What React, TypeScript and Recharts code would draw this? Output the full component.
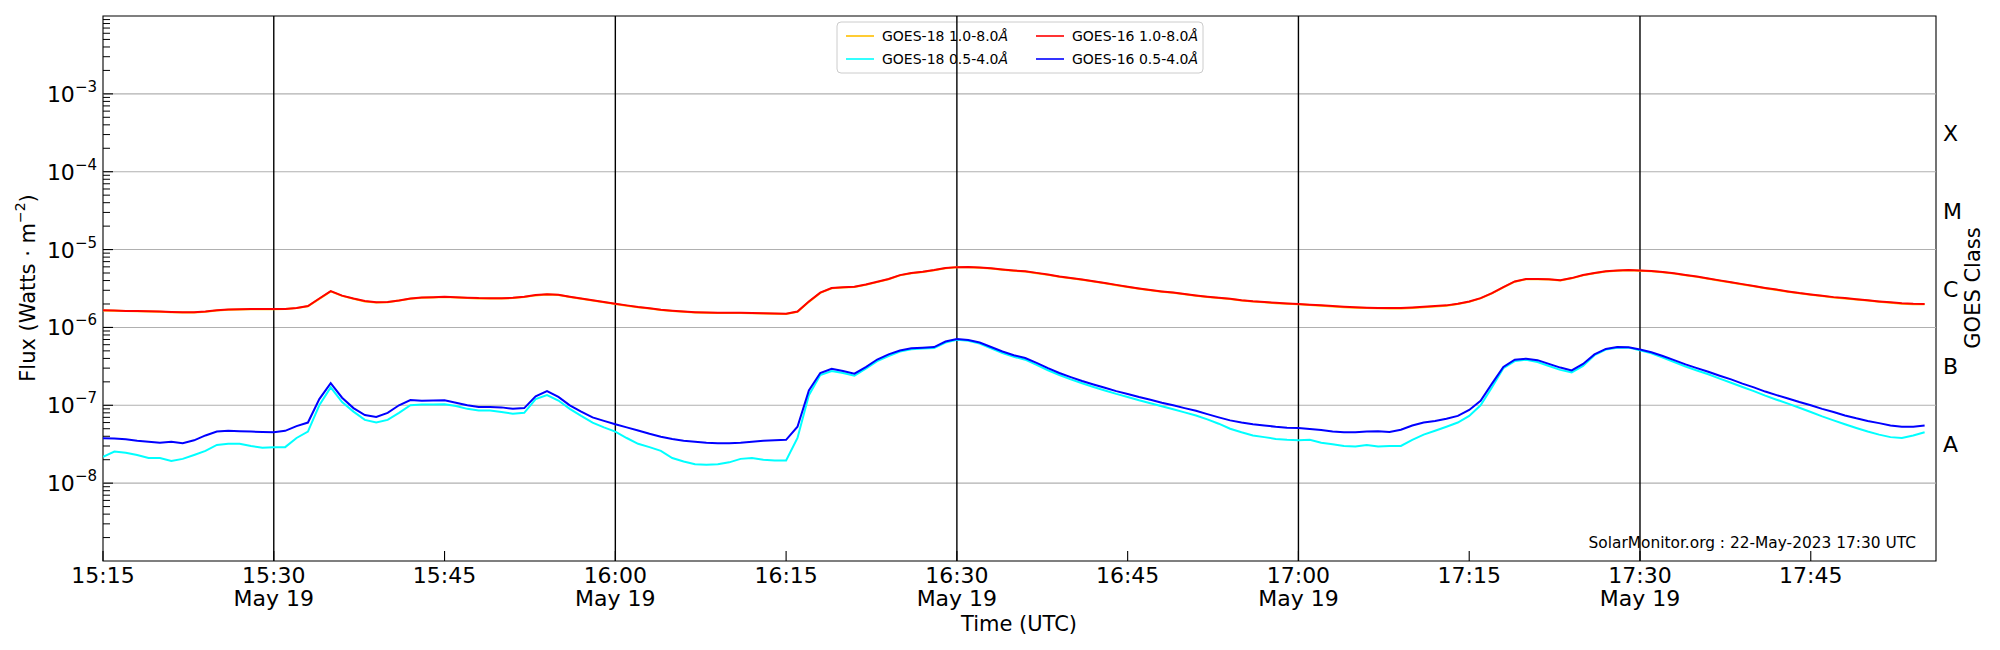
import React from 'react';
import { LineChart, Line, XAxis, YAxis, ReferenceLine, ReferenceArea } from 'recharts';

// minutes after 15:15 UTC, one sample per minute (15:15 .. 17:55)
const minutes = Array.from({ length: 161 }, (_, i) => i);

const goes16Long = [
  1.66e-6, 1.65e-6, 1.63e-6, 1.62e-6, 1.61e-6, 1.6e-6, 1.58e-6, 1.57e-6, 1.57e-6, 1.6e-6,
  1.66e-6, 1.7e-6, 1.71e-6, 1.72e-6, 1.72e-6, 1.72e-6, 1.73e-6, 1.78e-6, 1.88e-6, 2.35e-6,
  2.93e-6, 2.56e-6, 2.35e-6, 2.18e-6, 2.1e-6, 2.12e-6, 2.22e-6, 2.36e-6, 2.42e-6, 2.45e-6,
  2.48e-6, 2.45e-6, 2.41e-6, 2.38e-6, 2.37e-6, 2.37e-6, 2.4e-6, 2.48e-6, 2.6e-6, 2.66e-6,
  2.62e-6, 2.48e-6, 2.36e-6, 2.24e-6, 2.12e-6, 2.02e-6, 1.92e-6, 1.83e-6, 1.76e-6, 1.69e-6,
  1.64e-6, 1.6e-6, 1.57e-6, 1.55e-6, 1.54e-6, 1.54e-6, 1.54e-6, 1.53e-6, 1.52e-6, 1.51e-6,
  1.5e-6, 1.6e-6, 2.15e-6, 2.8e-6, 3.2e-6, 3.28e-6, 3.32e-6, 3.55e-6, 3.85e-6, 4.19e-6,
  4.7e-6, 5.0e-6, 5.2e-6, 5.47e-6, 5.8e-6, 5.95e-6, 5.97e-6, 5.9e-6, 5.75e-6, 5.55e-6,
  5.38e-6, 5.25e-6, 5.02e-6, 4.77e-6, 4.52e-6, 4.32e-6, 4.13e-6, 3.92e-6, 3.72e-6, 3.52e-6,
  3.33e-6, 3.16e-6, 3.02e-6, 2.9e-6, 2.8e-6, 2.68e-6, 2.57e-6, 2.48e-6, 2.4e-6, 2.33e-6,
  2.24e-6, 2.17e-6, 2.12e-6, 2.07e-6, 2.03e-6, 2.0e-6, 1.96e-6, 1.92e-6, 1.88e-6, 1.84e-6,
  1.81e-6, 1.79e-6, 1.78e-6, 1.77e-6, 1.77e-6, 1.8e-6, 1.84e-6, 1.88e-6, 1.92e-6, 2.02e-6,
  2.15e-6, 2.38e-6, 2.75e-6, 3.3e-6, 3.9e-6, 4.2e-6, 4.2e-6, 4.15e-6, 4.05e-6, 4.3e-6,
  4.7e-6, 5.0e-6, 5.25e-6, 5.4e-6, 5.45e-6, 5.4e-6, 5.3e-6, 5.15e-6, 4.95e-6, 4.72e-6,
  4.5e-6, 4.25e-6, 4.02e-6, 3.8e-6, 3.6e-6, 3.4e-6, 3.22e-6, 3.06e-6, 2.9e-6, 2.76e-6,
  2.65e-6, 2.55e-6, 2.45e-6, 2.38e-6, 2.3e-6, 2.23e-6, 2.16e-6, 2.1e-6, 2.04e-6, 2.01e-6,
  2.0e-6,
];

// hidden almost entirely under the GOES-16 long channel
const goes18Long = [
  1.65e-6, 1.64e-6, 1.62e-6, 1.61e-6, 1.6e-6, 1.59e-6, 1.57e-6, 1.56e-6, 1.56e-6, 1.59e-6,
  1.65e-6, 1.69e-6, 1.7e-6, 1.71e-6, 1.71e-6, 1.71e-6, 1.72e-6, 1.77e-6, 1.87e-6, 2.33e-6,
  2.9e-6, 2.54e-6, 2.33e-6, 2.16e-6, 2.09e-6, 2.11e-6, 2.21e-6, 2.34e-6, 2.4e-6, 2.43e-6,
  2.46e-6, 2.43e-6, 2.39e-6, 2.36e-6, 2.35e-6, 2.35e-6, 2.38e-6, 2.46e-6, 2.58e-6, 2.64e-6,
  2.6e-6, 2.46e-6, 2.34e-6, 2.22e-6, 2.1e-6, 2.0e-6, 1.9e-6, 1.82e-6, 1.75e-6, 1.68e-6,
  1.63e-6, 1.59e-6, 1.56e-6, 1.54e-6, 1.53e-6, 1.53e-6, 1.53e-6, 1.52e-6, 1.51e-6, 1.5e-6,
  1.49e-6, 1.59e-6, 2.13e-6, 2.78e-6, 3.18e-6, 3.26e-6, 3.3e-6, 3.52e-6, 3.82e-6, 4.16e-6,
  4.66e-6, 4.96e-6, 5.16e-6, 5.43e-6, 5.76e-6, 5.91e-6, 5.93e-6, 5.86e-6, 5.71e-6, 5.51e-6,
  5.34e-6, 5.21e-6, 4.98e-6, 4.73e-6, 4.49e-6, 4.29e-6, 4.1e-6, 3.89e-6, 3.69e-6, 3.49e-6,
  3.3e-6, 3.14e-6, 3.0e-6, 2.88e-6, 2.78e-6, 2.66e-6, 2.55e-6, 2.46e-6, 2.38e-6, 2.31e-6,
  2.22e-6, 2.15e-6, 2.1e-6, 2.05e-6, 2.01e-6, 1.98e-6, 1.94e-6, 1.9e-6, 1.86e-6, 1.82e-6,
  1.79e-6, 1.77e-6, 1.76e-6, 1.75e-6, 1.75e-6, 1.78e-6, 1.82e-6, 1.86e-6, 1.9e-6, 2.0e-6,
  2.13e-6, 2.36e-6, 2.73e-6, 3.27e-6, 3.87e-6, 4.17e-6, 4.17e-6, 4.12e-6, 4.02e-6, 4.27e-6,
  4.66e-6, 4.96e-6, 5.21e-6, 5.36e-6, 5.41e-6, 5.36e-6, 5.26e-6, 5.11e-6, 4.91e-6, 4.68e-6,
  4.46e-6, 4.21e-6, 3.99e-6, 3.77e-6, 3.57e-6, 3.37e-6, 3.19e-6, 3.03e-6, 2.88e-6, 2.74e-6,
  2.63e-6, 2.53e-6, 2.43e-6, 2.36e-6, 2.28e-6, 2.21e-6, 2.14e-6, 2.08e-6, 2.02e-6, 1.99e-6,
  1.98e-6,
];

const goes16Short = [
  3.76e-8, 3.75e-8, 3.65e-8, 3.5e-8, 3.4e-8, 3.3e-8, 3.4e-8, 3.25e-8, 3.55e-8, 4.1e-8,
  4.6e-8, 4.7e-8, 4.65e-8, 4.6e-8, 4.55e-8, 4.5e-8, 4.7e-8, 5.4e-8, 6.0e-8, 1.2e-7,
  1.92e-7, 1.25e-7, 9.2e-8, 7.5e-8, 7.1e-8, 8.0e-8, 1.0e-7, 1.17e-7, 1.14e-7, 1.15e-7,
  1.16e-7, 1.08e-7, 1.0e-7, 9.5e-8, 9.5e-8, 9.4e-8, 9.0e-8, 9.2e-8, 1.3e-7, 1.52e-7,
  1.28e-7, 1.0e-7, 8.3e-8, 7.0e-8, 6.3e-8, 5.7e-8, 5.2e-8, 4.75e-8, 4.3e-8, 3.95e-8,
  3.7e-8, 3.5e-8, 3.4e-8, 3.3e-8, 3.25e-8, 3.25e-8, 3.3e-8, 3.4e-8, 3.5e-8, 3.55e-8,
  3.6e-8, 5.3e-8, 1.55e-7, 2.6e-7, 2.95e-7, 2.75e-7, 2.55e-7, 3.1e-7, 3.87e-7, 4.5e-7,
  5.06e-7, 5.4e-7, 5.5e-7, 5.6e-7, 6.6e-7, 7.1e-7, 6.9e-7, 6.4e-7, 5.6e-7, 4.9e-7,
  4.4e-7, 4.05e-7, 3.5e-7, 3.0e-7, 2.6e-7, 2.3e-7, 2.05e-7, 1.85e-7, 1.68e-7, 1.52e-7,
  1.4e-7, 1.28e-7, 1.18e-7, 1.08e-7, 1.0e-7, 9.2e-8, 8.5e-8, 7.7e-8, 7.0e-8, 6.4e-8,
  6.0e-8, 5.7e-8, 5.5e-8, 5.3e-8, 5.15e-8, 5.1e-8, 4.95e-8, 4.8e-8, 4.6e-8, 4.5e-8,
  4.5e-8, 4.6e-8, 4.65e-8, 4.55e-8, 4.85e-8, 5.5e-8, 6.0e-8, 6.3e-8, 6.7e-8, 7.3e-8,
  8.7e-8, 1.14e-7, 1.9e-7, 3.1e-7, 3.85e-7, 3.97e-7, 3.8e-7, 3.4e-7, 3.05e-7, 2.8e-7,
  3.4e-7, 4.5e-7, 5.3e-7, 5.6e-7, 5.55e-7, 5.2e-7, 4.8e-7, 4.3e-7, 3.8e-7, 3.35e-7,
  3.0e-7, 2.7e-7, 2.4e-7, 2.15e-7, 1.9e-7, 1.7e-7, 1.5e-7, 1.35e-7, 1.22e-7, 1.1e-7,
  1.0e-7, 9.0e-8, 8.2e-8, 7.4e-8, 6.8e-8, 6.3e-8, 5.9e-8, 5.5e-8, 5.3e-8, 5.3e-8,
  5.5e-8,
];

const goes18Short = [
  2.18e-8, 2.55e-8, 2.45e-8, 2.3e-8, 2.1e-8, 2.1e-8, 1.92e-8, 2.05e-8, 2.3e-8, 2.6e-8,
  3.1e-8, 3.2e-8, 3.2e-8, 3.0e-8, 2.85e-8, 2.9e-8, 2.9e-8, 3.8e-8, 4.6e-8, 1.0e-7,
  1.7e-7, 1.1e-7, 8.3e-8, 6.5e-8, 6.0e-8, 6.5e-8, 8.0e-8, 1.0e-7, 1.02e-7, 1.02e-7,
  1.03e-7, 9.8e-8, 9.0e-8, 8.6e-8, 8.6e-8, 8.2e-8, 7.8e-8, 8.0e-8, 1.2e-7, 1.35e-7,
  1.15e-7, 9.0e-8, 7.3e-8, 6.0e-8, 5.2e-8, 4.6e-8, 3.8e-8, 3.2e-8, 2.9e-8, 2.6e-8,
  2.1e-8, 1.9e-8, 1.75e-8, 1.72e-8, 1.75e-8, 1.85e-8, 2.05e-8, 2.1e-8, 2.0e-8, 1.95e-8,
  1.95e-8, 3.8e-8, 1.35e-7, 2.45e-7, 2.75e-7, 2.6e-7, 2.4e-7, 2.95e-7, 3.7e-7, 4.3e-7,
  4.9e-7, 5.25e-7, 5.35e-7, 5.45e-7, 6.4e-7, 6.95e-7, 6.75e-7, 6.2e-7, 5.4e-7, 4.7e-7,
  4.2e-7, 3.85e-7, 3.3e-7, 2.82e-7, 2.45e-7, 2.15e-7, 1.92e-7, 1.72e-7, 1.55e-7, 1.4e-7,
  1.28e-7, 1.16e-7, 1.06e-7, 9.7e-8, 8.9e-8, 8.1e-8, 7.4e-8, 6.6e-8, 5.8e-8, 5.0e-8,
  4.5e-8, 4.1e-8, 3.9e-8, 3.7e-8, 3.6e-8, 3.55e-8, 3.6e-8, 3.3e-8, 3.15e-8, 3.0e-8,
  2.95e-8, 3.1e-8, 2.95e-8, 3.0e-8, 3.0e-8, 3.6e-8, 4.2e-8, 4.7e-8, 5.3e-8, 6.0e-8,
  7.3e-8, 1.0e-7, 1.7e-7, 3.0e-7, 3.7e-7, 3.85e-7, 3.6e-7, 3.2e-7, 2.85e-7, 2.65e-7,
  3.2e-7, 4.4e-7, 5.2e-7, 5.5e-7, 5.5e-7, 5.1e-7, 4.65e-7, 4.1e-7, 3.6e-7, 3.15e-7,
  2.8e-7, 2.5e-7, 2.2e-7, 1.95e-7, 1.72e-7, 1.52e-7, 1.33e-7, 1.18e-7, 1.05e-7, 9.3e-8,
  8.2e-8, 7.2e-8, 6.4e-8, 5.7e-8, 5.1e-8, 4.6e-8, 4.2e-8, 3.9e-8, 3.8e-8, 4.1e-8,
  4.5e-8,
];

const timeTicks = [0, 15, 30, 45, 60, 75, 90, 105, 120, 135, 150];
const timeLabels = ['15:15', '15:30', '15:45', '16:00', '16:15', '16:30', '16:45', '17:00', '17:15', '17:30', '17:45'];
const dateLabels = ['', 'May 19', '', 'May 19', '', 'May 19', '', 'May 19', '', 'May 19', ''];
const halfHourMarks = [15, 45, 75, 105, 135];

const decadeTicks = [1e-8, 1e-7, 1e-6, 1e-5, 1e-4, 1e-3];
const decadeExponents = ['\u22128', '\u22127', '\u22126', '\u22125', '\u22124', '\u22123'];
const classTicks = [3.16e-8, 3.16e-7, 3.16e-6, 3.16e-5, 3.16e-4];
const classLabels = ['A', 'B', 'C', 'M', 'X'];

// minor log ticks 2..9 x 10^k
const minorTicks: number[] = [];
for (let k = -9; k <= -3; k++) {
  for (let m = 2; m <= 9; m++) minorTicks.push(m * Math.pow(10, k));
}
const fluxTicks = [...decadeTicks, ...minorTicks];

const series = [
  { key: 'g18l', name: 'GOES-18 1.0-8.0', color: '#ffbf00', axis: 'cls' },
  { key: 'g18s', name: 'GOES-18 0.5-4.0', color: '#00ffff', axis: 'flux' },
  { key: 'g16l', name: 'GOES-16 1.0-8.0', color: '#ff0000', axis: 'flux' },
  { key: 'g16s', name: 'GOES-16 0.5-4.0', color: '#0000ff', axis: 'flux' },
];

const data = minutes.map((t, i) => ({
  t,
  g18l: goes18Long[i],
  g18s: goes18Short[i],
  g16l: goes16Long[i],
  g16s: goes16Short[i],
}));

const FONT = 'DejaVu Sans, sans-serif';

const FluxTick = (props: any) => {
  const { x, y, payload } = props;
  const idx = decadeTicks.indexOf(payload.value);
  if (idx < 0) {
    return <line x1={x} x2={x + 7} y1={y} y2={y} stroke="#000" strokeWidth={1} />;
  }
  return (
    <g>
      <line x1={x} x2={x + 10} y1={y} y2={y} stroke="#000" strokeWidth={1.1} />
      <text x={x - 6} y={y + 8} textAnchor="end" fontSize={22} fill="#000" fontFamily={FONT}>
        10<tspan dy={-10} fontSize={15}>{decadeExponents[idx]}</tspan>
      </text>
    </g>
  );
};

const ClassTick = (props: any) => {
  const { x, y, payload } = props;
  const idx = classTicks.indexOf(payload.value);
  return (
    <text x={x + 7} y={y + 8} textAnchor="start" fontSize={22} fill="#000" fontFamily={FONT}>
      {classLabels[idx]}
    </text>
  );
};

const TimeTick = (props: any) => {
  const { x, y, payload } = props;
  const idx = timeTicks.indexOf(payload.value);
  return (
    <g>
      <line x1={x} x2={x} y1={y} y2={y - 10} stroke="#000" strokeWidth={1.1} />
      <text x={x} y={y + 22} textAnchor="middle" fontSize={22} fill="#000" fontFamily={FONT}>
        {timeLabels[idx]}
      </text>
      {dateLabels[idx] && (
        <text x={x} y={y + 45} textAnchor="middle" fontSize={22} fill="#000" fontFamily={FONT}>
          {dateLabels[idx]}
        </text>
      )}
    </g>
  );
};

const legendCols = [846, 1036];
const legendRows = [36, 59];

export default function App() {
  return (
    <div style={{ position: 'absolute', left: 0, top: 0, width: 2000, height: 650, background: '#fff' }}>
      <LineChart width={2000} height={650} data={data} margin={{ top: 16, right: 63, bottom: 88, left: 102 }}>
        <XAxis
          dataKey="t"
          type="number"
          domain={[0, 161]}
          allowDataOverflow
          ticks={timeTicks}
          interval={0}
          height={1}
          tickSize={0}
          tickMargin={0}
          tickLine={false}
          axisLine={false}
          tick={(p: any) => <TimeTick {...p} />}
        />
        <YAxis
          yAxisId="flux"
          type="number"
          scale="log"
          domain={[1e-9, 1e-2]}
          allowDataOverflow
          ticks={fluxTicks}
          interval={0}
          width={1}
          tickSize={0}
          tickMargin={0}
          tickLine={false}
          axisLine={false}
          tick={(p: any) => <FluxTick {...p} />}
        />
        <YAxis
          yAxisId="cls"
          orientation="right"
          type="number"
          scale="log"
          domain={[1e-9, 1e-2]}
          allowDataOverflow
          ticks={classTicks}
          interval={0}
          width={1}
          tickSize={0}
          tickMargin={0}
          tickLine={false}
          axisLine={false}
          tick={(p: any) => <ClassTick {...p} />}
        />
        {decadeTicks.map((v) => (
          <ReferenceLine key={'g' + v} yAxisId="flux" y={v} stroke="#b0b0b0" strokeWidth={1.1} />
        ))}
        {halfHourMarks.map((m) => (
          <ReferenceLine key={'v' + m} yAxisId="flux" x={m} stroke="#000" strokeWidth={1.4} />
        ))}
        <ReferenceArea yAxisId="flux" x1={0} x2={161} y1={1e-9} y2={1e-2} fill="none" stroke="#000" strokeWidth={1.1} />
        {series.map((s) => (
          <Line
            key={s.key}
            yAxisId={s.axis}
            type="linear"
            dataKey={s.key}
            stroke={s.color}
            strokeWidth={2}
            dot={false}
            activeDot={false}
            isAnimationActive={false}
          />
        ))}

        <g fontFamily={FONT}>
          <rect x={837} y={22} width={366} height={51} rx={4} fill="#fff" fillOpacity={0.8} stroke="#cccccc" strokeWidth={1} />
          {series.map((s, i) => {
            const cx = legendCols[i < 2 ? 0 : 1];
            const cy = legendRows[i % 2];
            return (
              <g key={'lg' + s.key}>
                <line x1={cx} x2={cx + 28} y1={cy} y2={cy} stroke={s.color} strokeWidth={1.6} />
                <text x={cx + 36} y={cy + 5} fontSize={14} fill="#000">
                  {s.name}
                  <tspan fontStyle="italic">Å</tspan>
                </text>
              </g>
            );
          })}
          <text x={1916} y={548} textAnchor="end" fontSize={15.4} fill="#000">
            SolarMonitor.org : 22-May-2023 17:30 UTC
          </text>
          <text x={1019} y={631} textAnchor="middle" fontSize={21} fill="#000">
            Time (UTC)
          </text>
          <text x={28} y={288} transform="rotate(-90, 28, 288)" textAnchor="middle" dominantBaseline="central" fontSize={21} fill="#000">
            Flux (Watts · m<tspan dy={-8} fontSize={14}>{'\u22122'}</tspan>
            <tspan dy={8}>)</tspan>
          </text>
          <text x={1973} y={288} transform="rotate(-90, 1973, 288)" textAnchor="middle" dominantBaseline="central" fontSize={21} fill="#000">
            GOES Class
          </text>
        </g>
      </LineChart>
    </div>
  );
}
